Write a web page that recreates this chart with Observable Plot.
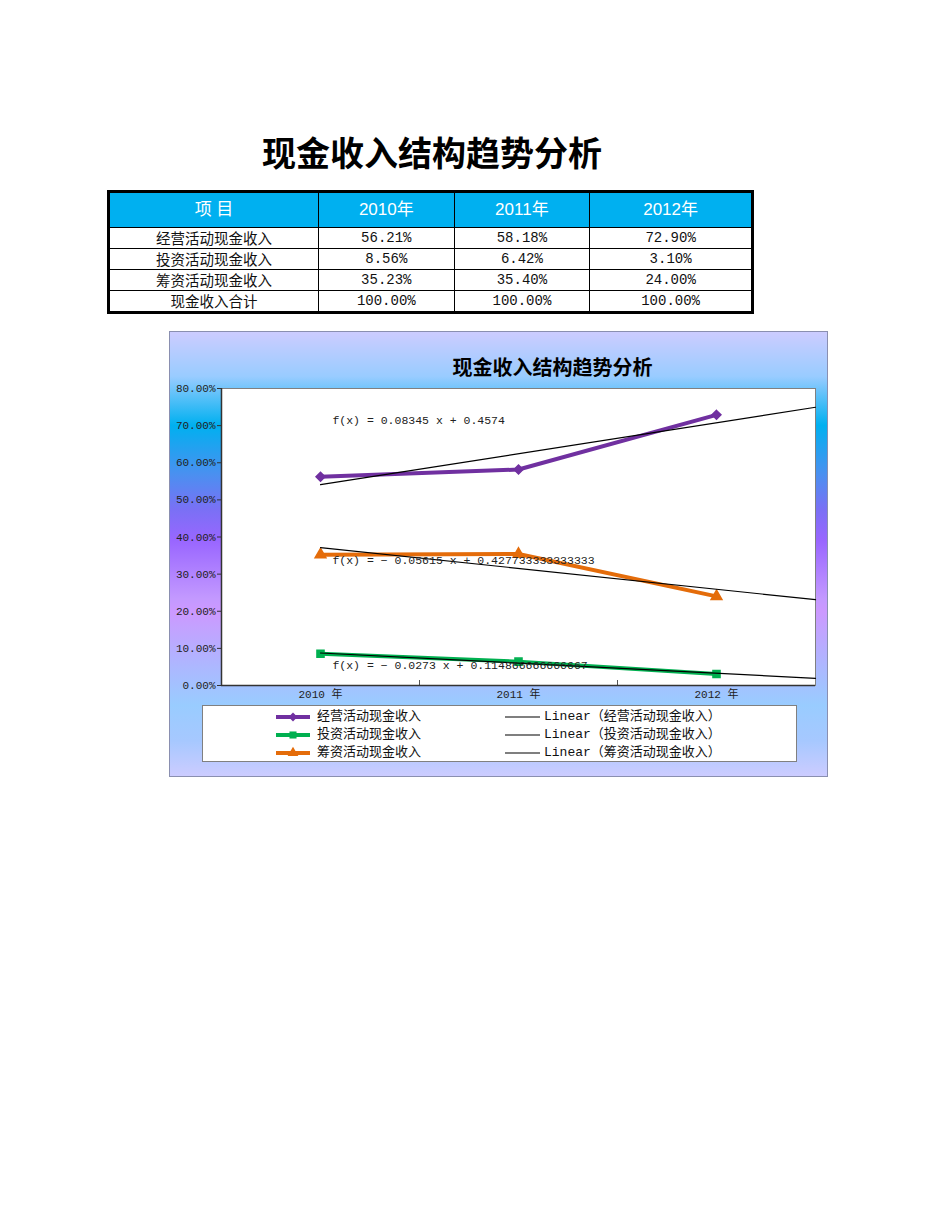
<!DOCTYPE html>
<html>
<head>
<meta charset="utf-8">
<script src="https://cdn.jsdelivr.net/npm/d3@7"></script>
<script src="https://cdn.jsdelivr.net/npm/@observablehq/plot@0.6"></script>
<style>
  html, body { margin: 0; padding: 0; background: #fff; }
  body { width: 950px; height: 1230px; position: relative; overflow: hidden; }
  #title { position: absolute; left: 0; width: 864px; top: 127px; text-align: center;
    font-family: "Noto Sans CJK SC", sans-serif; font-weight: 700; font-size: 34px; color: #000; }
  #tbl { position: absolute; left: 107px; top: 190px; border-collapse: collapse; border: 3px solid #000; table-layout: fixed; width: 647px; }
  #tbl td { border: 1px solid #000; padding: 0; text-align: center; height: 20px; line-height: 20px;
    font-family: "Liberation Mono", "Noto Sans CJK SC", monospace; font-size: 14px; color: #111; }
  #tbl tr.head td { background: #00b0f0; color: #fff; height: 34px; font-family: "Liberation Sans", "Noto Sans CJK SC", sans-serif; font-size: 17px; }
  #tbl td.name { font-family: "Noto Sans CJK SC", serif; font-size: 14.5px; }
  #frame { position: absolute; left: 169px; top: 331px; width: 657px; height: 444px; border: 1px solid #8a8fb0;
    background: linear-gradient(to bottom, #ccccff 0%, #99ccff 10%, #00b0f0 21%, #4a90f0 32%, #7a70f5 40%, #9966ff 47%, #c399ff 60%, #cc99ff 63%, #b0b4ff 74%, #99ccff 84%, #a6c8ff 92%, #ccccff 100%); }
  #ctitle { position: absolute; left: 0; width: 765px; top: 20px; text-align: center;
    font-family: "Noto Sans CJK SC", sans-serif; font-weight: 700; font-size: 20px; color: #000; }
  #plot { position: absolute; left: 0; top: 0; }
  #legend { position: absolute; left: 32px; top: 373px; width: 593px; height: 55px; background: #fff; border: 1px solid #808080; }
  .li { position: absolute; height: 16px; font-family: "Liberation Mono", "Noto Sans CJK SC", monospace; font-size: 13px; line-height: 16px; color: #111; white-space: nowrap; }
  .li svg { position: absolute; left: 0; top: 0; }
  .li span { position: absolute; top: 0; }
</style>
</head>
<body>
<div id="title"></div>
<table id="tbl"></table>
<div id="frame">
  <div id="plot"></div>
  <div id="ctitle"></div>
  <div id="legend"></div>
</div>
<script>
// ---- data ----
const titleText = "现金收入结构趋势分析";
const headerCells = ["项  目", "2010年", "2011年", "2012年"];
const xTickLabels = ["2010 年", "2011 年", "2012 年"];
const seriesNames = ["经营活动现金收入", "投资活动现金收入", "筹资活动现金收入"];
const totalName = "现金收入合计";
const operating = [0.5621, 0.5818, 0.7290];
const investing = [0.0856, 0.0642, 0.0310];
const financing = [0.3523, 0.3540, 0.2400];
const totals = [1.0, 1.0, 1.0];
const equations = [
  "f(x) = 0.08345 x + 0.4574",
  "f(x) = − 0.05615 x + 0.427733333333333",
  "f(x) = − 0.0273 x + 0.114866666666667"
];
const yTicks = [0, 0.1, 0.2, 0.3, 0.4, 0.5, 0.6, 0.7, 0.8];
const colors = ["#7030a0", "#00b050", "#e46c0a"];
const symbols = ["diamond2", "square", "triangle"];

const seriesValues = [operating, investing, financing];
const pct = d3.format(".2%");

// ---- title & table ----
document.getElementById("title").textContent = titleText;
document.getElementById("ctitle").textContent = titleText;
const tbl = document.getElementById("tbl");
const widths = ["32.6%", "21.1%", "21.1%", "25.2%"];
{
  const tr = tbl.insertRow(); tr.className = "head";
  headerCells.forEach((h, i) => { const c = tr.insertCell(); c.textContent = h; c.style.width = widths[i]; });
}
[...seriesNames.map((n, i) => [n, seriesValues[i]]), [totalName, totals]].forEach(([n, vals]) => {
  const tr = tbl.insertRow();
  const c0 = tr.insertCell(); c0.textContent = n; c0.className = "name";
  vals.forEach(v => { const c = tr.insertCell(); c.textContent = pct(v); });
});

// ---- chart data ----
const points = seriesNames.flatMap((s, si) => seriesValues[si].map((v, i) => ({series: s, x: i + 1, y: v})));
// least-squares trend (Excel linear trendline), forecast forward 0.5 period
const trends = seriesNames.flatMap((s, si) => {
  const ys = seriesValues[si], xs = ys.map((_, i) => i + 1);
  const mx = d3.mean(xs), my = d3.mean(ys);
  const b = d3.sum(xs, (x, i) => (x - mx) * (ys[i] - my)) / d3.sum(xs, x => (x - mx) ** 2);
  const a = my - b * mx;
  return [1, 3.5].map(x => ({series: s, x, y: a + b * x}));
});
const eqLabels = [
  {x: 1.06, y: 0.714, text: equations[0]},
  {x: 1.06, y: 0.337, text: equations[1]},
  {x: 1.06, y: 0.054, text: equations[2]}
];

const chart = Plot.plot({
  width: 657,
  height: 374,
  marginLeft: 51,
  marginRight: 12,
  marginTop: 56,
  marginBottom: 21,
  style: {background: "transparent", fontFamily: "'Liberation Mono','Noto Sans CJK SC',monospace", fontSize: "11px", color: "#222"},
  x: {domain: [0.5, 3.5], label: null},
  y: {domain: [0, 0.8], label: null},
  color: {domain: seriesNames, range: colors},
  symbol: {domain: seriesNames, range: symbols},
  marks: [
    Plot.frame({fill: "#fff", stroke: "#808080"}),
    Plot.axisY({ticks: yTicks, tickFormat: pct, tickSize: 4, tickPadding: 2, stroke: "#333", fill: "#222", label: null}),
    Plot.axisX({ticks: [1.5, 2.5], tickSize: -5, tickFormat: () => "", stroke: "#555", label: null}),
    Plot.axisX({ticks: [1, 2, 3], tickSize: 0, tickPadding: 5, tickFormat: d => xTickLabels[d - 1], fill: "#222", label: null}),
    Plot.ruleY([0], {stroke: "#333", strokeWidth: 1.5}),
    Plot.ruleX([0.5], {stroke: "#333", strokeWidth: 1.5}),
    Plot.line(points, {x: "x", y: "y", z: "series", stroke: "series", strokeWidth: 4}),
    Plot.dot(points, {x: "x", y: "y", fill: "series", stroke: "series", symbol: "series", r: 4}),
    Plot.line(trends, {x: "x", y: "y", z: "series", stroke: "#000", strokeWidth: 1.2}),
    Plot.text(eqLabels, {x: "x", y: "y", text: "text", textAnchor: "start", fill: "#222", fontSize: 11.5})
  ]
});
document.getElementById("plot").appendChild(chart);

// ---- legend ----
const legend = document.getElementById("legend");
const symPath = (sym) => {
  const gen = d3.symbol({diamond2: d3.symbolDiamond2, square: d3.symbolSquare, triangle: d3.symbolTriangle}[sym], 50);
  return gen();
};
seriesNames.forEach((s, i) => {
  const top = 3 + i * 18;
  const a = document.createElement("div");
  a.className = "li"; a.style.left = "72px"; a.style.top = top + "px";
  a.innerHTML = `<svg width="36" height="16"><line x1="1" x2="35" y1="8" y2="8" stroke="${colors[i]}" stroke-width="4"/><path transform="translate(18,8)" d="${symPath(symbols[i])}" fill="${colors[i]}"/></svg><span style="left:42px">${s}</span>`;
  legend.appendChild(a);
  const b = document.createElement("div");
  b.className = "li"; b.style.left = "301px"; b.style.top = top + "px";
  b.innerHTML = `<svg width="36" height="16"><line x1="1" x2="36" y1="8" y2="8" stroke="#000" stroke-width="1.2"/></svg><span style="left:40px">Linear（${s}）</span>`;
  legend.appendChild(b);
});
</script>
</body>
</html>
